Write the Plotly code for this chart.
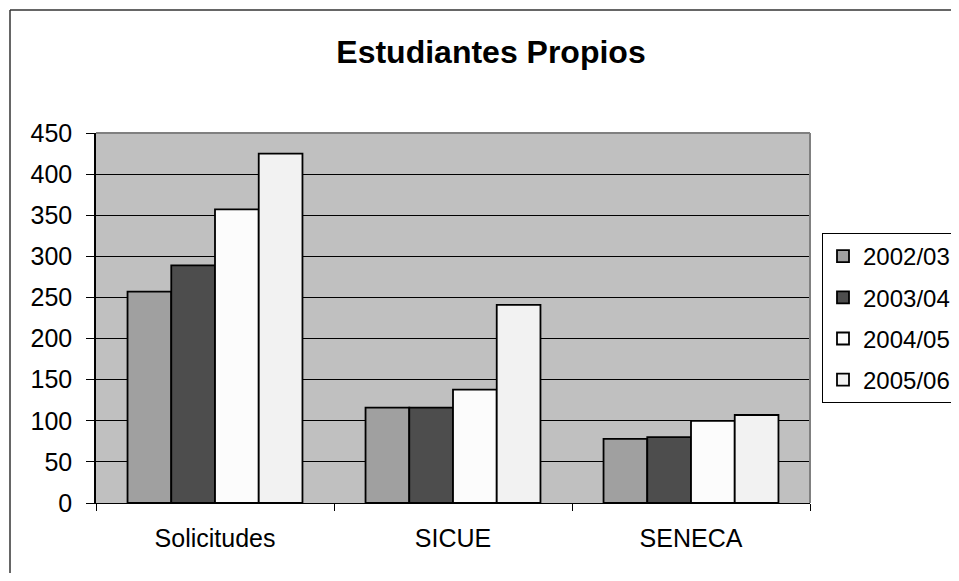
import plotly.graph_objects as go

categories = ["Solicitudes", "SICUE", "SENECA"]
series_names = ["2002/03", "2003/04", "2004/05", "2005/06"]
v_2002 = [257, 116, 78]
v_2003 = [289, 116, 80]
v_2004 = [357, 138, 100]
v_2005 = [425, 241, 107]
series_values = [v_2002, v_2003, v_2004, v_2005]
colors = ["#A0A0A0", "#4D4D4D", "#FCFCFC", "#F2F2F2"]
y_ticks = [0, 50, 100, 150, 200, 250, 300, 350, 400, 450]

OFF = 8  # page body margin
SW, SH = 959, 581  # screen
W, H = SW - 2 * OFF, SH - 2 * OFF  # figure size that fits without scrollbars
# target plot area on screen: x 96..810, y 133..503
L = 96 - OFF
T = 133 - OFF
R = W - (810 - OFF)
B = H - (503 - OFF)
pw, ph = W - L - R, H - T - B

def px(xs):
    return (xs - OFF - L) / pw

def py(ys):
    return (H - B - (ys - OFF)) / ph

fig = go.Figure()
for i, (name, vals) in enumerate(zip(series_names, series_values)):
    fig.add_trace(go.Bar(
        x=categories, y=vals, name=name,
        marker=dict(color=colors[i], line=dict(color="#000000", width=1.8)),
        legendgroup=name,
    ))

fig.update_layout(
    width=W, height=H,
    margin=dict(l=L, r=R, t=T, b=B, autoexpand=False),
    paper_bgcolor="white",
    plot_bgcolor="#C0C0C0",
    barmode="group",
    bargap=0.265,
    bargroupgap=0,
    font=dict(family="Liberation Sans, Arial, sans-serif", size=25, color="#000"),
    title=dict(text="<b>Estudiantes Propios</b>", x=px(491), xref="paper", xanchor="center",
               y=1 - (52 - OFF) / H, yanchor="middle", font=dict(size=32)),
    legend=dict(x=px(822), y=py(233), xanchor="left", yanchor="top",
                bordercolor="#000", borderwidth=1, bgcolor="white",
                font=dict(size=24), tracegroupgap=7, traceorder="grouped",
                itemwidth=30),
    showlegend=True,
)
fig.update_xaxes(
    showline=True, linecolor="#000", linewidth=1,
    ticks="outside", ticklen=7, tickcolor="#000", tickson="boundaries",
    ticklabelstandoff=13, showgrid=False,
)
fig.update_yaxes(
    range=[0, 450], tickvals=y_ticks, showline=True, linecolor="#000", linewidth=1.5,
    ticks="outside", ticklen=8, tickcolor="#000", ticklabelstandoff=9,
    showgrid=True, gridcolor="#000", gridwidth=1, zeroline=False,
)
# plot area top/right grey border
fig.add_shape(type="line", xref="paper", yref="paper", x0=0, x1=1, y0=1, y1=1,
              line=dict(color="#808080", width=2))
fig.add_shape(type="line", xref="paper", yref="paper", x0=1, x1=1, y0=0, y1=1,
              line=dict(color="#808080", width=2))
# outer chart border (top and left edges; right/bottom lie off-screen)
fig.add_shape(type="line", xref="paper", yref="paper",
              x0=px(10), x1=px(1000), y0=py(10), y1=py(10),
              line=dict(color="#333333", width=1.5))
fig.add_shape(type="line", xref="paper", yref="paper",
              x0=px(10), x1=px(10), y0=py(10), y1=py(620),
              line=dict(color="#333333", width=1.5))

fig.write_html("out.html")
